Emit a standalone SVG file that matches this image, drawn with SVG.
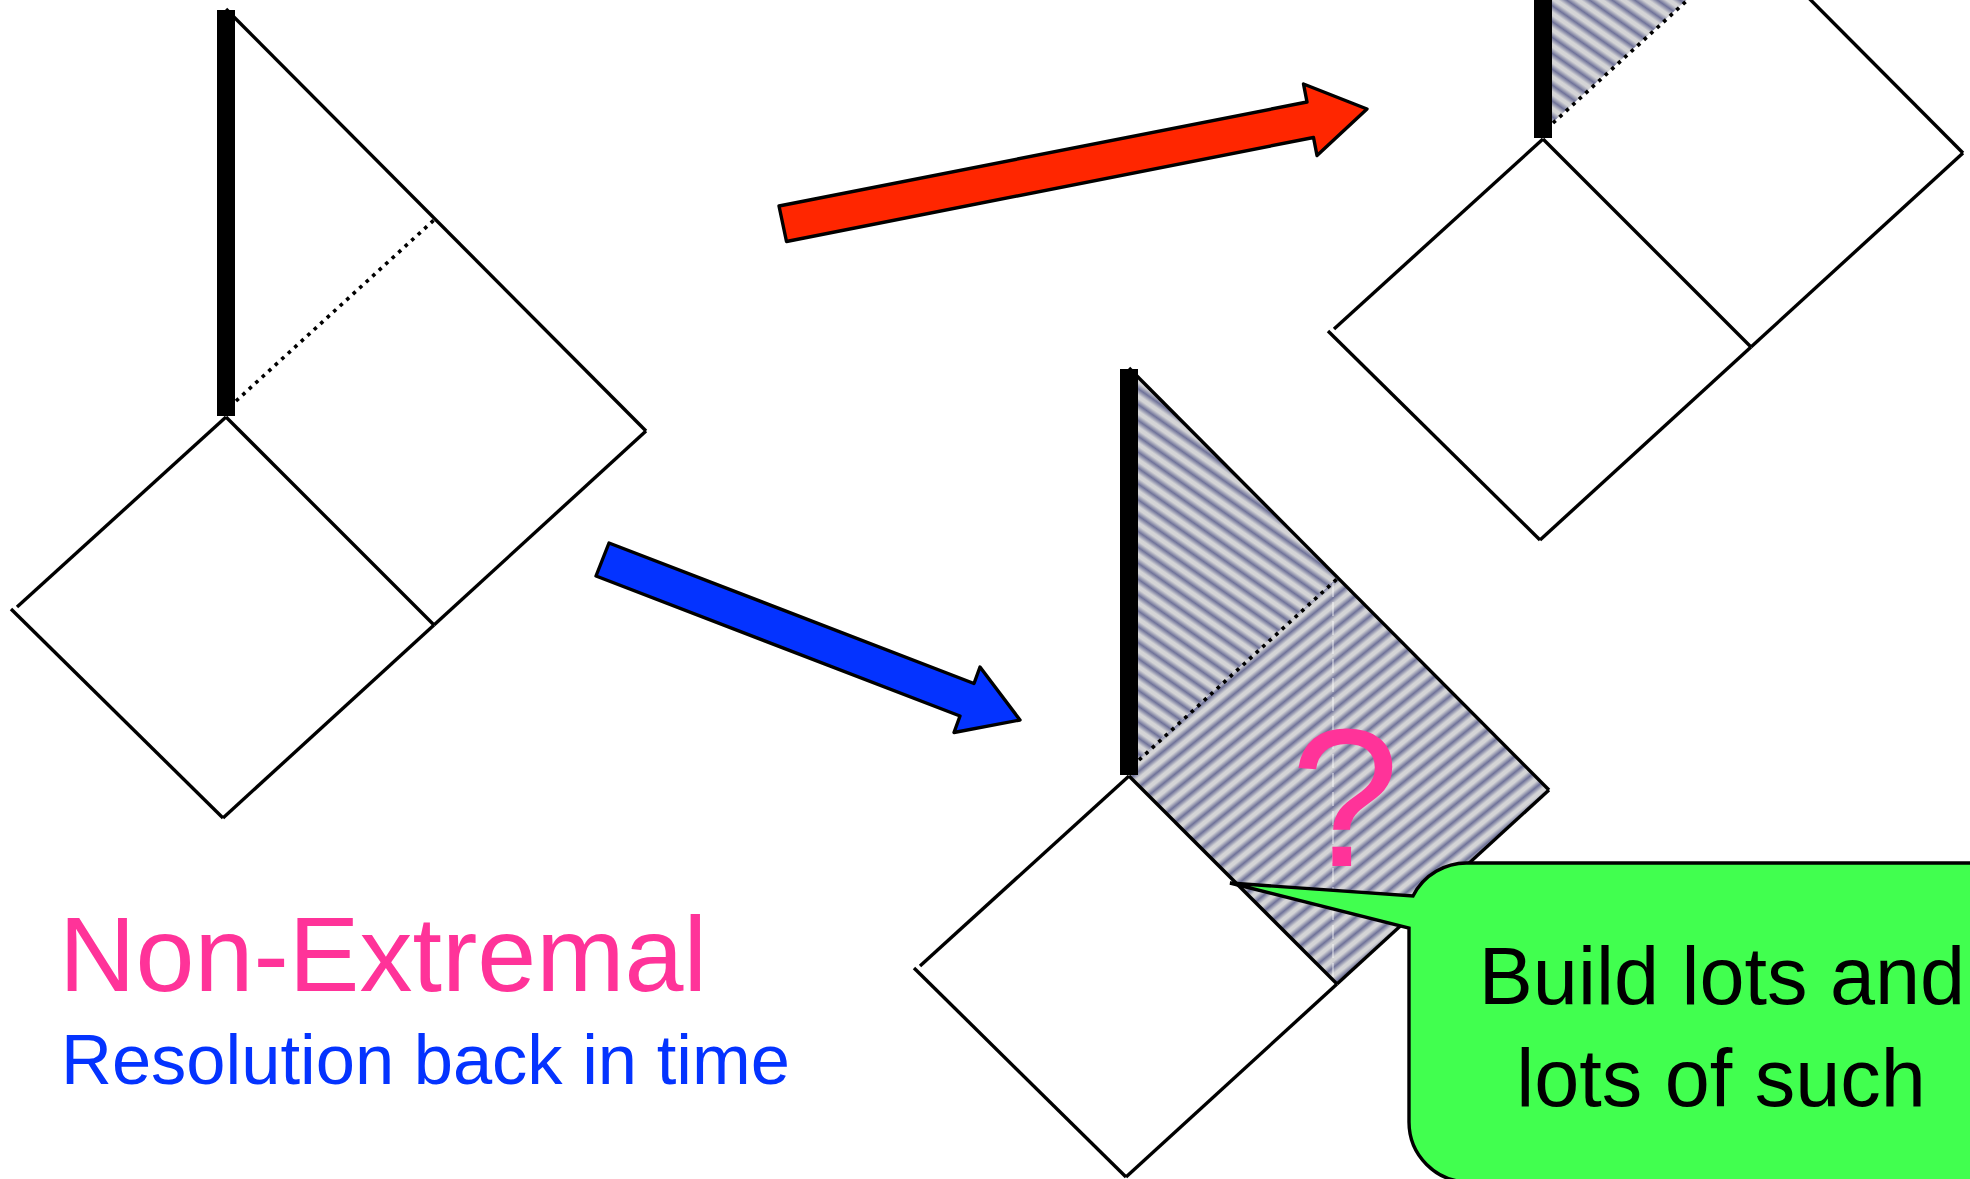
<svg xmlns="http://www.w3.org/2000/svg" xmlns:xlink="http://www.w3.org/1999/xlink" width="1970" height="1179" viewBox="0 0 1970 1179">
<style>
.ln{fill:none;stroke:#000;stroke-width:3.4;stroke-linecap:butt;}
.dot{fill:none;stroke:#000;stroke-width:3.6;stroke-dasharray:3.6 5.2;}
.bar{fill:#000;}
.arrow{stroke:#000;stroke-width:3.4;stroke-linejoin:round;}
.sans{font-family:"Liberation Sans",Arial,Helvetica,sans-serif;}
</style>
<defs>
<linearGradient id="stripeGrad" x1="0" y1="0" x2="0" y2="1">
<stop offset="0" stop-color="#d4d4d6"/>
<stop offset="0.12" stop-color="#d4d4d6"/>
<stop offset="0.5" stop-color="#6f7299"/>
<stop offset="0.88" stop-color="#d4d4d6"/>
<stop offset="1" stop-color="#d4d4d6"/>
</linearGradient>
<pattern id="hatchDown" patternUnits="userSpaceOnUse" width="40" height="13" patternTransform="rotate(35)">
<rect x="0" y="0" width="40" height="13" fill="url(#stripeGrad)"/>
</pattern>
<pattern id="hatchUp" patternUnits="userSpaceOnUse" width="40" height="12.5" patternTransform="rotate(-39)">
<rect x="0" y="0" width="40" height="12.5" fill="url(#stripeGrad)"/>
</pattern>
<g id="frame">
<line class="ln" x1="226" y1="9" x2="646" y2="431"/>
<line class="ln" x1="226" y1="417" x2="434" y2="625"/>
<line class="ln" x1="226" y1="417" x2="17" y2="607"/>
<line class="ln" x1="11" y1="609" x2="223" y2="818"/>
<line class="ln" x1="223" y1="818" x2="434" y2="625"/>
<line class="ln" x1="434" y1="625" x2="646" y2="431"/>
<line class="dot" x1="236" y1="401" x2="434" y2="220"/>
<rect class="bar" x="217" y="10" width="18" height="406"/>
</g>
</defs>

<g id="diagram-left">
<use xlink:href="#frame" href="#frame"/>
</g>

<g id="diagram-topright" transform="translate(1317,-278)">
<polygon points="226,9 434,219 235,401 226,401" fill="url(#hatchDown)"/>
<use xlink:href="#frame" href="#frame"/>
</g>

<g id="diagram-bottom" transform="translate(903,359)">
<polygon points="235,401 434,219 646,431 434,625 226,417" fill="url(#hatchUp)"/>
<polygon points="226,9 434,219 235,401 226,401" fill="url(#hatchDown)"/>
<line x1="430" y1="224" x2="430" y2="619" stroke="#ffffff" stroke-opacity="0.55" stroke-width="1.5" stroke-dasharray="14 5"/>
<use xlink:href="#frame" href="#frame"/>
<text class="sans" x="442" y="507" font-size="196" fill="#ff3399" text-anchor="middle">?</text>
</g>

<g id="connectors">
<polygon class="arrow" fill="#ff2600" points="779,206 1307,102 1303.5,84 1367,109 1317,155.5 1313.5,137.5 786.5,241.5"/>
<polygon class="arrow" fill="#0433ff" points="609,543 974,683.5 980,667 1020,720 954,732.5 960,716 596,576"/>
</g>

<g id="callout">
<path d="M1230,883 L1413,896 A60,60 0 0 1 1469,863 H2010 V1182 H1469 A60,60 0 0 1 1409,1122 V928 Z" fill="#41ff4f" stroke="#000" stroke-width="3.4" stroke-linejoin="miter"/>
<text class="sans" font-size="81" fill="#000" text-anchor="middle"><tspan x="1722" y="1004">Build lots and</tspan><tspan x="1721" y="1106">lots of such</tspan></text>
</g>

<g id="labels">
<text class="sans" x="59" y="991" font-size="106" fill="#ff3399">Non-Extremal</text>
<text class="sans" x="61" y="1084" font-size="70.5" fill="#0433ff">Resolution back in time</text>
</g>
</svg>
